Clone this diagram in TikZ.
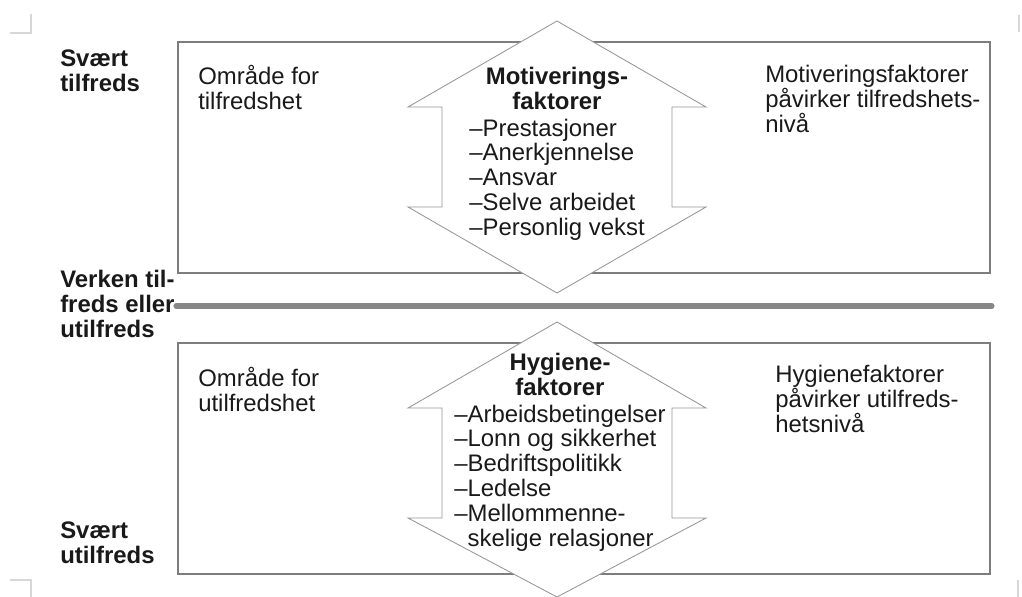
\documentclass[tikz,border=0pt]{standalone}
\usepackage{fontspec}
\setmainfont{Liberation Sans}
\usetikzlibrary{positioning}
\definecolor{boxgray}{RGB}{125,125,125}
\definecolor{arrowgray}{RGB}{150,150,150}
\definecolor{dividergray}{RGB}{135,135,135}
\definecolor{markgray}{RGB}{215,215,215}
\definecolor{textdark}{RGB}{25,25,25}
\tikzset{
	areabox/.style={draw=boxgray, line width=0.9pt},
	factorarrow/.style={draw=arrowgray, fill=white, line width=0.6pt, line join=miter},
	divider/.style={draw=dividergray, line width=3.6pt, line cap=round},
	cropmark/.style={draw=markgray, line width=0.8pt},
	txt/.style={anchor=north west, inner sep=0pt, align=left, text=textdark, font=\fontsize{17}{17.7}\selectfont},
	leveltxt/.style={txt, font=\bfseries\fontsize{17}{17.7}\selectfont},
	factorhead/.style={anchor=north, inner sep=0pt, align=center, text=textdark, font=\bfseries\fontsize{17}{17.7}\selectfont},
	factorlist/.style={anchor=north, inner sep=0pt, align=left, text=textdark, font=\fontsize{17}{17.7}\selectfont}
}
\begin{document}
\begin{tikzpicture}[x=0.025cm, y=-0.025cm]
	\useasboundingbox (0,0) rectangle (1022,597);
	% Corner marks:
	\draw[cropmark] (10,33) -- (31,33) -- (31,14);
	\draw[cropmark] (1019,15) -- (1019,32);
	\draw[cropmark] (10,580) -- (31,580) -- (31,597);
	\draw[cropmark] (1018,580) -- (1018,597);
	% Area boxes and the neutral line:
	\draw[areabox] (178,42) rectangle (990,273);
	\draw[areabox] (178,343) rectangle (990,574);
	\coordinate (neutralA) at (176,306);
	\coordinate (neutralB) at (992,306);
	\draw[divider] (neutralA) -- (neutralB);
	% Double arrows:
	\draw[factorarrow] (557,21) -- (706,107) -- (672,107) -- (672,207) -- (706,207) -- (557,293) -- (408,207) -- (442,207) -- (442,107) -- (408,107) -- cycle;
	\draw[factorarrow] (557,322) -- (706,408) -- (672,408) -- (672,518) -- (706,518) -- (557,597) -- (408,518) -- (442,518) -- (442,408) -- (408,408) -- cycle;
	% Level labels:
	\node[leveltxt] (verysat) at (60,50) {Svært\\tilfreds};
	\node[leveltxt] (neutral) at (60,270) {Verken til-\\freds eller\\utilfreds};
	\node[leveltxt] (verydissat) at (60,522) {Svært\\utilfreds};
	% Upper area:
	\node[txt] (satarea) at (198,65) {Område for\\tilfredshet};
	\node[factorhead] (motivhead) at (557,67) {Motiverings-\\faktorer};
	\node[factorlist, below=6pt of motivhead] (motivlist) {–Prestasjoner\\–Anerkjennelse\\–Ansvar\\–Selve arbeidet\\–Personlig vekst};
	\node[txt] (motivnote) at (765,65) {Motiveringsfaktorer\\påvirker tilfredshets-\\nivå};
	% Lower area:
	\node[txt] (dissatarea) at (198,367) {Område for\\utilfredshet};
	\node[factorhead] (hygienehead) at (560,353) {Hygiene-\\faktorer};
	\node[factorlist, below=6pt of hygienehead] (hygienelist) {–Arbeidsbetingelser\\–Lonn og sikkerhet\\–Bedriftspolitikk\\–Ledelse\\–Mellommenne-\\\phantom{–}skelige relasjoner};
	\node[txt] (hygienenote) at (775,365) {Hygienefaktorer\\påvirker utilfreds-\\hetsnivå};
\end{tikzpicture}
\end{document}
